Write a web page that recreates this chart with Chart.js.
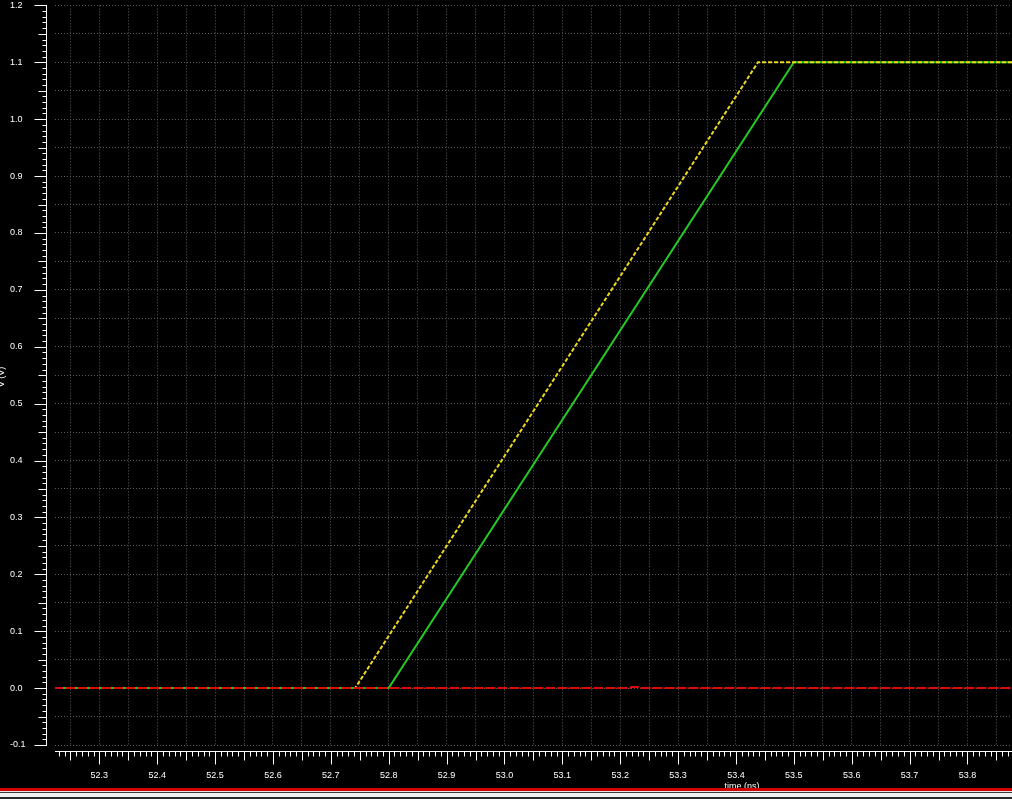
<!DOCTYPE html>
<html>
<head>
<meta charset="utf-8">
<script src="https://cdn.jsdelivr.net/npm/chart.js@4/dist/chart.umd.min.js"></script>
<style>
    html, body {
        margin: 0;
        padding: 0;
        background: #000;
        overflow: hidden;
    }

    #wrap {
        position: relative;
        width: 1012px;
        height: 801px;
    }

    .faixa {
        position: absolute;
        left: 0;
        width: 1012px;
    }
</style>
</head>
<body>
<div id="wrap">
    <canvas id="graficoOnda" width="1012" height="801"></canvas>
    <div class="faixa" style="top:788px;height:3px;background:#d40000;"></div>
    <div class="faixa" style="top:791px;height:1px;background:#e8e8e8;"></div>
    <div class="faixa" style="top:792px;height:1px;background:#3a3a3a;"></div>
    <div class="faixa" style="top:793px;height:4px;background:#f2f2f2;"></div>
    <div class="faixa" style="top:797px;height:2px;background:#2a2a2a;"></div>
    <div class="faixa" style="top:799px;height:2px;background:#ffffff;"></div>
</div>

<script>
/* ==========================================================================
   Transient waveform: V (V) vs time (ns)
   ========================================================================== */

// visible window
const xMin = 52.2234;
const xMax = 53.877;
const yMin = -0.1;
const yMax = 1.2;

// tick labels
const xTickLabels = ["52.3", "52.4", "52.5", "52.6", "52.7", "52.8", "52.9", "53.0", "53.1", "53.2", "53.3", "53.4", "53.5", "53.6", "53.7", "53.8"];
const yTickLabels = ["-0.1", "0.0", "0.1", "0.2", "0.3", "0.4", "0.5", "0.6", "0.7", "0.8", "0.9", "1.0", "1.1", "1.2"];

// series (time in ns, voltage in V)
const timeRed = [52.2, 53.217, 53.219, 53.231, 53.233, 53.9];
const voltRed = [0, 0, 0.002, 0.002, 0, 0];

const timeYellow = [52.2, 52.742, 53.438, 53.9];
const voltYellow = [0, 0, 1.1, 1.1];

const timeGreen = [52.2, 52.8, 53.5, 53.9];
const voltGreen = [0, 0, 1.1, 1.1];

const corGrade = "#5c5c5c";
const fonteEixo = { family: "Liberation Sans", size: 9 };

function montarPontos(xs, ys) {
    return xs.map((x, i) => ({ x: x, y: ys[i] }));
}

function ticksCada(min, max, passo) {
    const lista = [];
    const ini = Math.ceil(min / passo - 1e-9);
    const fim = Math.floor(max / passo + 1e-9);

    for (let k = ini; k <= fim; k++) {
        lista.push({ value: Math.round(k * passo * 1000) / 1000 });
    }

    return lista;
}

function rotuloTick(valor, rotulos) {
    const txt = valor.toFixed(1);
    const ehDecimo = Math.abs(valor * 10 - Math.round(valor * 10)) < 1e-6;

    if (!ehDecimo) return "";
    return rotulos.includes(txt) ? txt : (txt === "-0.0" ? "0.0" : "");
}

// axis lines, minor ticks and titles drawn from the chart's scales
const pluginEixos = {
    id: "eixos",
    afterDraw(chart) {
        const ctx = chart.ctx;
        const sx = chart.scales.x;
        const sy = chart.scales.y;
        const area = chart.chartArea;

        const eixoY = 46.5;
        const eixoX = 751.5;

        ctx.save();
        ctx.strokeStyle = "#ffffff";
        ctx.lineWidth = 1;

        ctx.beginPath();
        ctx.moveTo(eixoY, Math.round(sy.getPixelForValue(yMax)));
        ctx.lineTo(eixoY, Math.round(sy.getPixelForValue(yMin)) + 1);
        ctx.moveTo(area.left, eixoX);
        ctx.lineTo(area.right, eixoX);

        // y ticks, every 0.01
        for (let k = Math.round(yMin * 100); k <= Math.round(yMax * 100); k++) {
            const py = Math.round(sy.getPixelForValue(k / 100)) + 0.5;
            const tam = k % 10 === 0 ? 12 : (k % 5 === 0 ? 8 : 4);
            ctx.moveTo(eixoY - tam, py);
            ctx.lineTo(eixoY, py);
        }

        // x ticks, every 0.01
        for (let k = Math.ceil(xMin * 100); k <= Math.floor(xMax * 100); k++) {
            const px = Math.round(sx.getPixelForValue(k / 100)) + 0.5;
            const tam = k % 10 === 0 ? 13 : (k % 5 === 0 ? 9 : 5);
            ctx.moveTo(px, eixoX);
            ctx.lineTo(px, eixoX + tam);
        }

        ctx.stroke();

        ctx.fillStyle = "#ffffff";
        ctx.font = "9px 'Liberation Sans'";
        ctx.textAlign = "center";
        ctx.textBaseline = "middle";
        ctx.fillText("time (ns)", 742, 787);

        ctx.translate(2, 377);
        ctx.rotate(-Math.PI / 2);
        ctx.fillText("V (V)", 0, 0);

        ctx.restore();
    }
};

new Chart(document.getElementById("graficoOnda"), {
    type: "line",
    data: {
        datasets: [
            {
                label: "red",
                data: montarPontos(timeRed, voltRed),
                borderColor: "#dc0a0a",
                borderWidth: 2,
                borderDash: [10, 2],
                pointRadius: 0
            },
            {
                label: "yellow",
                data: montarPontos(timeYellow, voltYellow),
                borderColor: "#ecd81c",
                borderWidth: 2,
                borderDash: [4, 2],
                pointRadius: 0
            },
            {
                label: "green",
                data: montarPontos(timeGreen, voltGreen),
                borderColor: "#22cc22",
                borderWidth: 2,
                pointRadius: 0
            }
        ]
    },
    options: {
        responsive: false,
        animation: false,
        events: [],
        layout: {
            padding: { left: 10, top: 5, right: 0, bottom: 0 }
        },
        plugins: {
            legend: { display: false },
            tooltip: { enabled: false }
        },
        scales: {
            x: {
                type: "linear",
                min: xMin,
                max: xMax,
                afterBuildTicks: s => { s.ticks = ticksCada(xMin, xMax, 0.05); },
                afterFit: s => { s.height = 56; },
                border: { display: false, dash: [1, 2] },
                grid: {
                    color: corGrade,
                    lineWidth: 1,
                    drawTicks: true,
                    tickLength: 25,
                    tickColor: "rgba(0,0,0,0)"
                },
                ticks: {
                    color: "#ffffff",
                    font: fonteEixo,
                    padding: 0,
                    maxRotation: 0,
                    autoSkip: false,
                    callback: v => rotuloTick(v, xTickLabels)
                }
            },
            y: {
                min: yMin,
                max: yMax,
                afterBuildTicks: s => { s.ticks = ticksCada(yMin, yMax, 0.05); },
                afterFit: s => { s.width = 45; },
                border: { display: false, dash: [1, 2] },
                grid: {
                    color: corGrade,
                    lineWidth: 1,
                    drawTicks: false,
                    tickLength: 0,
                    tickColor: "rgba(0,0,0,0)"
                },
                ticks: {
                    color: "#ffffff",
                    font: fonteEixo,
                    crossAlign: "far",
                    padding: 0,
                    autoSkip: false,
                    callback: v => rotuloTick(v, yTickLabels)
                }
            }
        }
    },
    plugins: [pluginEixos]
});
</script>
</body>
</html>
